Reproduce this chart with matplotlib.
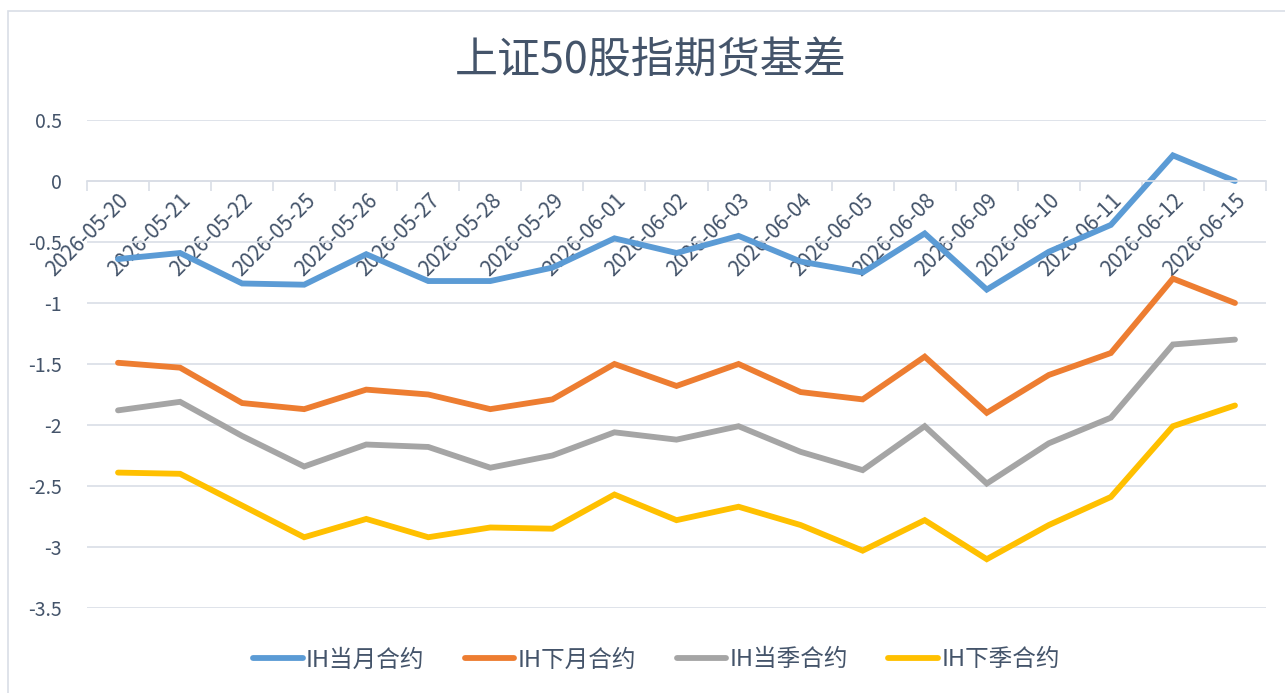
import matplotlib.pyplot as plt
from matplotlib.patches import Rectangle
import numpy as np

plt.rcParams['font.family'] = ['Noto Sans CJK SC', 'DejaVu Sans']

dates = ['2026-05-20', '2026-05-21', '2026-05-22', '2026-05-25', '2026-05-26',
         '2026-05-27', '2026-05-28', '2026-05-29', '2026-06-01', '2026-06-02',
         '2026-06-03', '2026-06-04', '2026-06-05', '2026-06-08', '2026-06-09',
         '2026-06-10', '2026-06-11', '2026-06-12', '2026-06-15']

ih_cur_month = [-0.64, -0.59, -0.84, -0.85, -0.60, -0.82, -0.82, -0.71, -0.47, -0.59,
                -0.45, -0.66, -0.75, -0.43, -0.89, -0.58, -0.36, 0.21, 0.0]
ih_next_month = [-1.49, -1.53, -1.82, -1.87, -1.71, -1.75, -1.87, -1.79, -1.50, -1.68,
                 -1.50, -1.73, -1.79, -1.44, -1.90, -1.59, -1.41, -0.80, -1.00]
ih_cur_quarter = [-1.88, -1.81, -2.09, -2.34, -2.16, -2.18, -2.35, -2.25, -2.06, -2.12,
                  -2.01, -2.22, -2.37, -2.01, -2.48, -2.15, -1.94, -1.34, -1.30]
ih_next_quarter = [-2.39, -2.40, -2.66, -2.92, -2.77, -2.92, -2.84, -2.85, -2.57, -2.78,
                   -2.67, -2.82, -3.03, -2.78, -3.10, -2.82, -2.59, -2.01, -1.84]

series_names = ['IH当月合约', 'IH下月合约', 'IH当季合约', 'IH下季合约']
colors = ['#5B9BD5', '#ED7D31', '#A5A5A5', '#FFC000']
text_color = '#44546A'
grid_color = '#D9DEE6'

fig = plt.figure(figsize=(12.85, 6.93), dpi=100)
# outer chart frame
fig.patches.append(Rectangle((8 / 1285, -0.01), 1.02, 1 - 11 / 693 + 0.01,
                             transform=fig.transFigure, fill=False,
                             edgecolor=grid_color, linewidth=1.2))

ax = fig.add_axes([87 / 1285, 1 - 608 / 693, (1266 - 87) / 1285, (608 - 120) / 693])

x = np.arange(len(dates))
all_series = [ih_cur_month, ih_next_month, ih_cur_quarter, ih_next_quarter]
for vals, name, c in zip(all_series, series_names, colors):
    ax.plot(x, vals, color=c, linewidth=4.2, label=name, solid_capstyle='round',
            solid_joinstyle='miter')

ax.set_xlim(-0.5, len(dates) - 0.5)
ax.set_ylim(-3.5, 0.5)
ax.set_yticks(np.arange(-3.5, 0.51, 0.5))
ax.set_yticklabels(['-3.5', '-3', '-2.5', '-2', '-1.5', '-1', '-0.5', '0', '0.5'])
ax.yaxis.grid(True, color=grid_color, linewidth=1.2)
ax.set_axisbelow(True)
ax.tick_params(axis='y', length=0, labelsize=14, labelcolor=text_color, pad=18)

for s in ['top', 'right', 'left']:
    ax.spines[s].set_visible(False)
ax.spines['bottom'].set_position(('data', 0))
ax.spines['bottom'].set_color(grid_color)
ax.spines['bottom'].set_linewidth(1.2)

ax.set_xticks(x)
ax.set_xticklabels(dates, rotation=45, ha='right', va='top', rotation_mode='anchor')
ax.set_xticks(np.arange(-0.5, len(dates), 1), minor=True)
ax.tick_params(axis='x', which='major', length=0, labelsize=15, labelcolor=text_color, pad=6)
ax.tick_params(axis='x', which='minor', length=7, color=grid_color, width=1.2)

fig.text(0.506, 1 - 62 / 693, '上证50股指期货基差', ha='center', va='center',
         fontsize=31, color=text_color)

ax.legend(loc='center', bbox_to_anchor=(0.483, (608 - 660) / 488), ncol=4, frameon=False,
          fontsize=17, labelcolor=text_color, handlelength=2.1, handletextpad=0.15,
          columnspacing=1.7)

fig.savefig('out.png', dpi=100)
